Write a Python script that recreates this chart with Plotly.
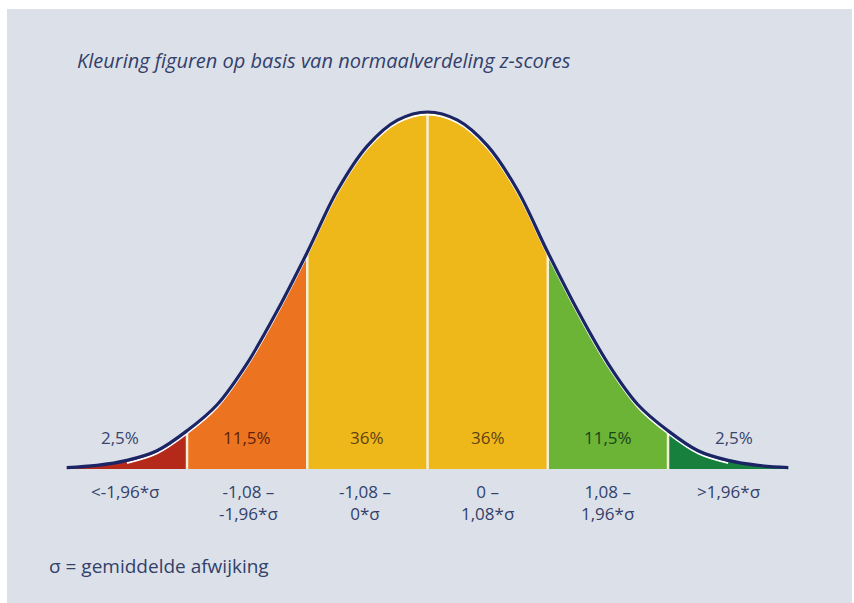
import plotly.graph_objects as go

# ---- data ----
title_text = "Kleuring figuren op basis van normaalverdeling z-scores"
footnote_text = "σ = gemiddelde afwijking"

# curve: position (in class widths from the centre) and relative height (peak = 1)
curve_x = [-3.0, -2.75, -2.5, -2.25, -2.0, -1.75, -1.5, -1.25, -1.0, -0.75, -0.5, -0.25,
           0.0, 0.25, 0.5, 0.75, 1.0, 1.25, 1.5, 1.75, 2.0, 2.25, 2.5, 2.75, 3.0]
curve_y = [0.004, 0.010, 0.024, 0.051, 0.107, 0.180, 0.296, 0.443, 0.607, 0.780, 0.905, 0.977,
           1.000, 0.977, 0.905, 0.780, 0.607, 0.443, 0.296, 0.180, 0.107, 0.051, 0.024, 0.010, 0.004]

class_bounds = [-3, -2, -1, 0, 1, 2, 3]
class_colors = ["#b5291b", "#ec7420", "#efb81a", "#efb81a", "#6cb436", "#16803c"]
class_pct = ["2,5%", "11,5%", "36%", "36%", "11,5%", "2,5%"]
pct_pos = [-2.56, -1.5, -0.5, 0.5, 1.5, 2.55]
pct_colors = ["#38456e", "#5e220c", "#5f4212", "#5f4212", "#1a431c", "#38456e"]
class_labels = ["&lt;-1,96*σ", "-1,08 –<br>-1,96*σ", "-1,08 –<br>0*σ",
                "0 –<br>1,08*σ", "1,08 –<br>1,96*σ", "&gt;1,96*σ"]
label_pos = [-2.51, -1.49, -0.52, 0.5, 1.5, 2.5]

BG = "#dce1e9"
NAVY = "#1b2566"
TEXT = "#33406a"
FONT = "Open Sans"

fig = go.Figure()

# coloured classes under the curve
for i in range(len(class_colors)):
    a, b = class_bounds[i], class_bounds[i + 1]
    xs = [x for x in curve_x if a <= x <= b]
    ys = [y for x, y in zip(curve_x, curve_y) if a <= x <= b]
    fig.add_trace(go.Scatter(x=xs, y=ys, mode="lines", line=dict(width=0, shape="spline"),
                             fill="tozeroy", fillcolor=class_colors[i], hoverinfo="skip"))

# light separators between classes
for bnd in class_bounds[1:-1]:
    h = curve_y[curve_x.index(bnd)]
    fig.add_trace(go.Scatter(x=[bnd, bnd], y=[0, h - 0.006], mode="lines",
                             line=dict(color="#f6eed6", width=2.5), hoverinfo="skip"))

# thin white rim inside the curve
rim_x = [x for x in curve_x if abs(x) <= 2.5]
rim_y = [y - 0.007 for x, y in zip(curve_x, curve_y) if abs(x) <= 2.5]
fig.add_trace(go.Scatter(x=rim_x, y=rim_y, mode="lines",
                         line=dict(color="#ffffff", width=2, shape="spline"), hoverinfo="skip"))

# the curve itself
fig.add_trace(go.Scatter(x=curve_x, y=curve_y, mode="lines",
                         line=dict(color=NAVY, width=3.2, shape="spline"), hoverinfo="skip"))

annotations = []
for p, t, c in zip(pct_pos, class_pct, pct_colors):
    annotations.append(dict(x=p, y=0.088, xref="x", yref="y", text=t, showarrow=False,
                            font=dict(family=FONT, size=17, color=c), xanchor="center", yanchor="middle"))
for p, t in zip(label_pos, class_labels):
    annotations.append(dict(x=p, y=-0.024, xref="x", yref="y", text=t, showarrow=False,
                            font=dict(family=FONT, size=17, color=TEXT), xanchor="center", yanchor="top",
                            align="center"))
annotations.append(dict(x=0.080, y=0.914, xref="paper", yref="paper", text=title_text, showarrow=False,
                        font=dict(family=FONT, size=20, color=TEXT, style="italic"),
                        xanchor="left", yanchor="middle"))
annotations.append(dict(x=0.047, y=0.062, xref="paper", yref="paper", text=footnote_text, showarrow=False,
                        font=dict(family=FONT, size=19, color=TEXT), xanchor="left", yanchor="middle"))

fig.update_layout(
    width=854, height=603,
    margin=dict(l=7, r=2, t=9, b=0),
    paper_bgcolor="#ffffff",
    plot_bgcolor=BG,
    showlegend=False,
    hovermode=False,
    annotations=annotations,
    xaxis=dict(range=[-3.497, 3.530], visible=False, fixedrange=True),
    yaxis=dict(range=[-0.3754, 1.2885], visible=False, fixedrange=True),
)

fig.write_html("out.html", config={"displayModeBar": False},
               post_script="document.body.style.margin='0px';document.body.style.overflow='hidden';")
